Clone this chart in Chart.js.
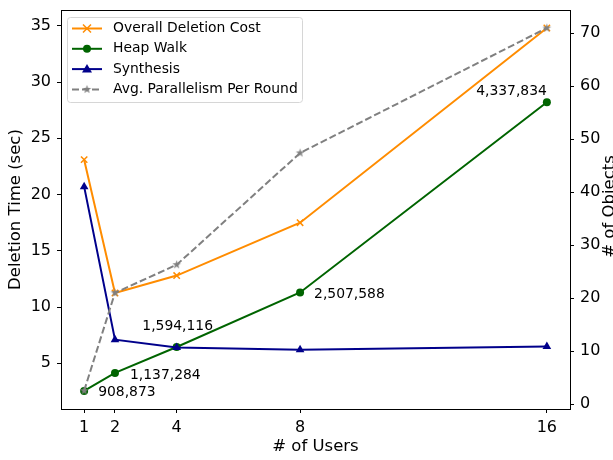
<!DOCTYPE html>
<html>
<head>
<meta charset="utf-8">
<script src="https://cdn.jsdelivr.net/npm/chart.js@4/dist/chart.umd.min.js"></script>
<style>
  html, body { margin: 0; padding: 0; background: #fff; }
  #wrap { width: 613px; height: 460px; }
</style>
</head>
<body>
<div id="wrap"><canvas id="chart" width="613" height="460"></canvas></div>
<script>
// data
const users = [1, 2, 4, 8, 16];
const overallCost = [23.1, 11.25, 12.8, 17.5, 34.8];
const heapWalk = [2.55, 4.15, 6.45, 11.3, 28.2];
const synthesis = [20.7, 7.1, 6.4, 6.2, 6.5];
const avgParallelism = [2.5, 21.0, 26.3, 47.4, 71.0];
const objectCounts = [908873, 1137284, 1594116, 2507588, 4337834];

const userTicks = [1, 2, 4, 8, 16];
const timeTicks = [5, 10, 15, 20, 25, 30, 35];
const objectTicks = [0, 10, 20, 30, 40, 50, 60, 70];

const FONT = 'DejaVu Sans';
const FS = 13.9;      // legend + annotations
const TICK_FS = 16;   // tick labels
const TITLE_FS = 16.5; // axis titles

function pts(ys) {
    return users.map((u, i) => ({ x: u, y: ys[i] }));
}

// matplotlib style filled star
function makeStar(r, color) {
    const c = document.createElement('canvas');
    const s = Math.ceil(r * 2 + 2);
    c.width = s; c.height = s;
    const g = c.getContext('2d');
    g.fillStyle = color;
    g.beginPath();
    for (let i = 0; i < 10; i++) {
        const rad = i % 2 === 0 ? r : r * 0.4;
        const a = -Math.PI / 2 + i * Math.PI / 5;
        const px = s / 2 + rad * Math.cos(a);
        const py = s / 2 + rad * Math.sin(a);
        if (i === 0) g.moveTo(px, py); else g.lineTo(px, py);
    }
    g.closePath();
    g.fill();
    return c;
}
const star = makeStar(4.5, '#808080');

const series = [
    { label: 'Overall Deletion Cost', data: pts(overallCost), color: '#ff8c00', style: 'crossRot', axis: 'y', r: 4.5 },
    { label: 'Heap Walk', data: pts(heapWalk), color: '#006400', style: 'circle', axis: 'y', r: 4 },
    { label: 'Synthesis', data: pts(synthesis), color: '#00008b', style: 'triangle', axis: 'y', r: 5 },
    { label: 'Avg. Parallelism Per Round', data: pts(avgParallelism), color: '#808080', style: star, axis: 'y2', r: 4.5, dash: [7, 3] }
];

function setTicks(values) {
    return function (scale) {
        scale.ticks = values.map(v => ({ value: v }));
    };
}

// legend, frame, annotations, right axis title
const extras = {
    id: 'extras',
    afterDatasetsDraw(chart) {
        const ctx = chart.ctx;
        const a = chart.chartArea;
        const xs = chart.scales.x;
        const ys = chart.scales.y;
        ctx.save();

        // object count annotations next to the heap walk points
        const offs = [[14, 2, 'left'], [15, 3, 'left'], [1, -21, 'center'], [14, 2, 'left'], [0, -11, 'right']];
        ctx.font = FS + 'px ' + FONT;
        ctx.fillStyle = '#000';
        ctx.textBaseline = 'middle';
        objectCounts.forEach((n, i) => {
            const px = xs.getPixelForValue(users[i]);
            const py = ys.getPixelForValue(heapWalk[i]);
            ctx.textAlign = offs[i][2];
            ctx.fillText(n.toLocaleString('en-US'), px + offs[i][0], py + offs[i][1]);
        });

        // frame
        ctx.strokeStyle = '#000';
        ctx.lineWidth = 1;
        ctx.strokeRect(Math.round(a.left) + 0.5, Math.round(a.top) + 0.5,
            Math.round(a.right - a.left), Math.round(a.bottom - a.top));

        // legend box
        const lx = 67, ly = 17, lw = 235, lh = 85;
        ctx.beginPath();
        ctx.roundRect(lx + 0.5, ly + 0.5, lw, lh, 3);
        ctx.fillStyle = 'rgba(255,255,255,0.8)';
        ctx.fill();
        ctx.strokeStyle = '#d6d6d6';
        ctx.stroke();

        series.forEach((s, i) => {
            const y = 28.5 + i * 20.3;
            ctx.strokeStyle = s.color;
            ctx.lineWidth = 2;
            ctx.setLineDash(s.dash || []);
            ctx.beginPath();
            ctx.moveTo(72, y);
            ctx.lineTo(102, y);
            ctx.stroke();
            ctx.setLineDash([]);
            const cx = 87;
            ctx.fillStyle = s.color;
            if (s.style === 'crossRot') {
                ctx.lineWidth = 1.5;
                ctx.beginPath();
                ctx.moveTo(cx - 4, y - 4); ctx.lineTo(cx + 4, y + 4);
                ctx.moveTo(cx + 4, y - 4); ctx.lineTo(cx - 4, y + 4);
                ctx.stroke();
            } else if (s.style === 'circle') {
                ctx.beginPath();
                ctx.arc(cx, y, 4, 0, Math.PI * 2);
                ctx.fill();
            } else if (s.style === 'triangle') {
                ctx.beginPath();
                ctx.moveTo(cx, y - 5);
                ctx.lineTo(cx + 5, y + 3.5);
                ctx.lineTo(cx - 5, y + 3.5);
                ctx.closePath();
                ctx.fill();
            } else {
                ctx.drawImage(star, cx - star.width / 2, y - star.height / 2);
            }
            ctx.fillStyle = '#000';
            ctx.textAlign = 'left';
            ctx.textBaseline = 'middle';
            ctx.font = FS + 'px ' + FONT;
            ctx.fillText(s.label, 113, y);
        });

        // right axis title, reads bottom to top like matplotlib
        ctx.fillStyle = '#000';
        ctx.font = TITLE_FS + 'px ' + FONT;
        ctx.translate(610, (a.top + a.bottom) / 2 - 3);
        ctx.rotate(-Math.PI / 2);
        ctx.textAlign = 'center';
        ctx.textBaseline = 'middle';
        ctx.fillText('# of Objects', 0, 0);
        ctx.restore();
    }
};

const axisCommon = {
    grid: { drawOnChartArea: false, drawTicks: true, tickLength: 4, tickColor: '#000', tickWidth: 1 },
    border: { display: true, color: '#000', width: 1 },
    ticks: { color: '#000', font: { family: FONT, size: TICK_FS }, padding: 5 }
};

new Chart(document.getElementById('chart'), {
    type: 'line',
    data: {
        datasets: series.map((s, i) => ({
            label: s.label,
            data: s.data,
            yAxisID: s.axis,
            borderColor: s.color,
            backgroundColor: s.color,
            borderWidth: 2,
            borderDash: s.dash || [],
            pointStyle: s.style,
            pointRadius: s.r,
            pointBorderWidth: s.style === 'crossRot' ? 1.5 : 0,
            pointBorderColor: s.color,
            pointBackgroundColor: s.color,
            tension: 0,
            fill: false,
            order: 3 - i
        }))
    },
    options: {
        responsive: false,
        animation: false,
        layout: { padding: { top: 10, left: 0, right: 0, bottom: 0 } },
        plugins: { legend: { display: false }, tooltip: { enabled: false } },
        scales: {
            x: {
                ...axisCommon,
                type: 'linear',
                min: 0.25,
                max: 16.75,
                afterBuildTicks: setTicks(userTicks),
                afterFit(scale) { scale.height = 51; },
                title: { display: true, text: '# of Users', color: '#000', font: { family: FONT, size: TITLE_FS }, padding: { top: 0, bottom: 3 } }
            },
            y: {
                ...axisCommon,
                position: 'left',
                min: 0.94,
                max: 36.4,
                afterBuildTicks: setTicks(timeTicks),
                afterFit(scale) { scale.width = 61; scale.paddingTop = 0; scale.paddingBottom = 0; },
                ticks: { ...axisCommon.ticks, padding: 6 },
                title: { display: true, text: 'Deletion Time (sec)', color: '#000', font: { family: FONT, size: TITLE_FS }, padding: { top: 6, bottom: 0 } }
            },
            y2: {
                ...axisCommon,
                position: 'right',
                min: -0.94,
                max: 74.4,
                afterBuildTicks: setTicks(objectTicks),
                afterFit(scale) { scale.width = 43; scale.paddingTop = 0; scale.paddingBottom = 0; },
                ticks: { ...axisCommon.ticks, padding: 6 }
            }
        }
    },
    plugins: [extras]
});
</script>
</body>
</html>
